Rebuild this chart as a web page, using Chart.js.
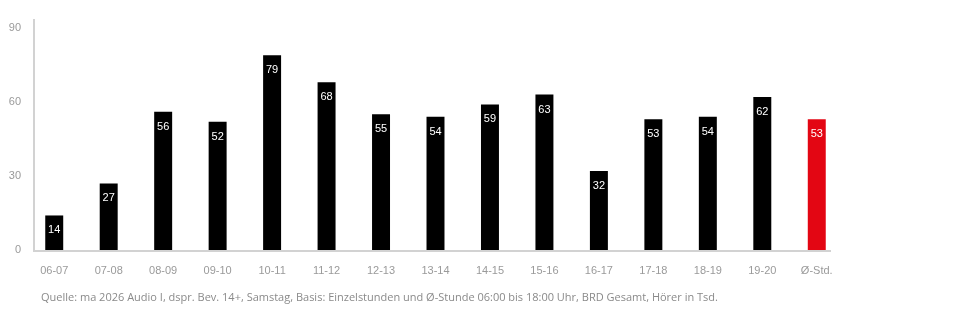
<!DOCTYPE html>
<html>
<head>
<meta charset="utf-8">
<script src="https://cdn.jsdelivr.net/npm/chart.js@4/dist/chart.umd.min.js"></script>
<style>
  html, body { margin: 0; padding: 0; background: #fff; }
  .wrap { position: relative; width: 960px; height: 310px; }
  .source {
    position: absolute; left: 41px; top: 289px;
    font-family: 'Open Sans', sans-serif; font-size: 11px; color: #8a8a8a;
    white-space: nowrap;
  }
</style>
</head>
<body>
<div class="wrap">
  <canvas id="chart" width="960" height="310"></canvas>
  <div class="source">Quelle: ma 2026 Audio I, dspr. Bev. 14+, Samstag, Basis: Einzelstunden und Ø-Stunde 06:00 bis 18:00 Uhr, BRD Gesamt, Hörer in Tsd.</div>
</div>
<script>
const hours = ['06-07', '07-08', '08-09', '09-10', '10-11', '11-12', '12-13', '13-14', '14-15', '15-16', '16-17', '17-18', '18-19', '19-20', 'Ø-Std.'];
const listeners = [14, 27, 56, 52, 79, 68, 55, 54, 59, 63, 32, 53, 54, 62, 53];
const yTicks = [0, 30, 60, 90];

const BLACK = '#000000';
const RED = '#e30613';
const AXIS = '#d2d2d2';
const TICK = '#9a9a9a';

// axis lines sit a bit inside the category band, so draw them by hand
const axisLines = {
  id: 'axisLines',
  beforeDatasetsDraw(chart) {
    const { ctx } = chart;
    const y0 = chart.scales.y.getPixelForValue(0);
    ctx.save();
    ctx.strokeStyle = AXIS;
    ctx.lineWidth = 2;
    ctx.beginPath();
    ctx.moveTo(34, 19);
    ctx.lineTo(34, y0 + 1);
    ctx.moveTo(33, y0 + 1);
    ctx.lineTo(831, y0 + 1);
    ctx.stroke();
    ctx.restore();
  },
};

const barLabels = {
  id: 'barLabels',
  afterDatasetsDraw(chart) {
    const { ctx } = chart;
    const meta = chart.getDatasetMeta(0);
    ctx.save();
    ctx.fillStyle = '#fff';
    ctx.font = '11px "Liberation Sans", Arial, sans-serif';
    ctx.textAlign = 'center';
    ctx.textBaseline = 'middle';
    meta.data.forEach((bar, i) => {
      ctx.fillText(String(listeners[i]), bar.x, bar.y + 15);
    });
    ctx.restore();
  },
};

new Chart(document.getElementById('chart'), {
  type: 'bar',
  data: {
    labels: hours,
    datasets: [
      {
        data: listeners,
        backgroundColor: hours.map((_, i) => (i === hours.length - 1 ? RED : BLACK)),
        barPercentage: 0.33,
        categoryPercentage: 1,
      },
    ],
  },
  options: {
    responsive: false,
    animation: false,
    layout: { padding: { top: 28, right: 116, bottom: 0, left: 0 } },
    plugins: { legend: { display: false }, tooltip: { enabled: false } },
    scales: {
      x: {
        grid: { display: false, drawTicks: false },
        border: { display: false },
        afterFit: (s) => { s.height = 60; },
        ticks: {
          color: TICK,
          padding: 14,
          maxRotation: 0,
          font: { family: '"Liberation Sans", Arial, sans-serif', size: 11 },
        },
      },
      y: {
        min: 0,
        max: 90,
        afterFit: (s) => { s.width = 27; },
        afterBuildTicks: (s) => { s.ticks = yTicks.map((v) => ({ value: v })); },
        grid: { display: false, drawTicks: false },
        border: { display: false },
        ticks: {
          color: TICK,
          padding: 6,
          font: { family: '"Liberation Sans", Arial, sans-serif', size: 11 },
        },
      },
    },
  },
  plugins: [axisLines, barLabels],
});
</script>
</body>
</html>
